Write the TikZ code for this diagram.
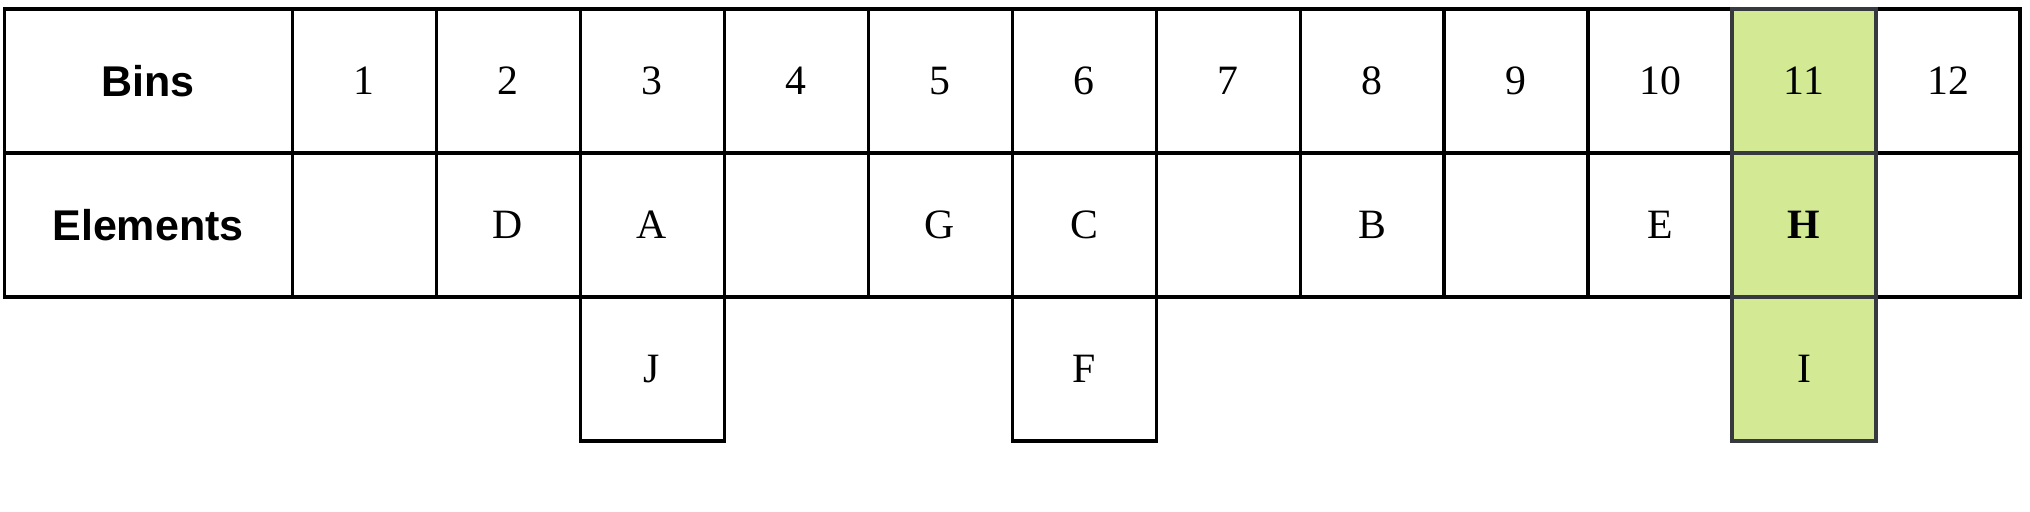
\documentclass[tikz,border=0pt]{standalone}
\usepackage{fontspec}
\setmainfont{Liberation Serif}
\setsansfont{Liberation Sans}
\definecolor{hitgreen}{HTML}{D4E994}
\definecolor{hitedge}{HTML}{36393D}
\tikzset{
  cell/.style={draw=black,line width=1.2pt,minimum width=2cm,minimum height=2cm,
    inner sep=0pt,outer sep=0pt,font=\fontsize{16.5}{19}\selectfont},
  headcell/.style={cell,minimum width=4cm,font=\fontsize{17}{20}\selectfont\sffamily\bfseries},
  hitcell/.style={cell,fill=hitgreen,draw=hitedge}
}
\begin{document}
\begin{tikzpicture}
\useasboundingbox (-0.056,0.125) rectangle (28.139,-6.986);
% Kopfspalte
\node[headcell] (bins) at (2,-1) {Bins};
\node[headcell] (elements) at (2,-3) {Elements};
% Fächer mit ihren Elementen
\foreach \i/\e in {1/,2/D,3/A,4/,5/G,6/C,7/,8/B,9/,10/E,12/} {
  \node[cell] (bin\i) at (3+2*\i,-1) {\i};
  \node[cell] (slot\i) at (3+2*\i,-3) {\e};
}
% Überlauf
\node[cell] (overJ) at (9,-5) {J};
\node[cell] (overF) at (15,-5) {F};
% Fach 11 (markiert)
\node[hitcell] (bin11) at (25,-1) {11};
\node[hitcell] (slot11) at (25,-3) {\textbf{H}};
\node[hitcell] (overI) at (25,-5) {I};
\end{tikzpicture}
\end{document}
